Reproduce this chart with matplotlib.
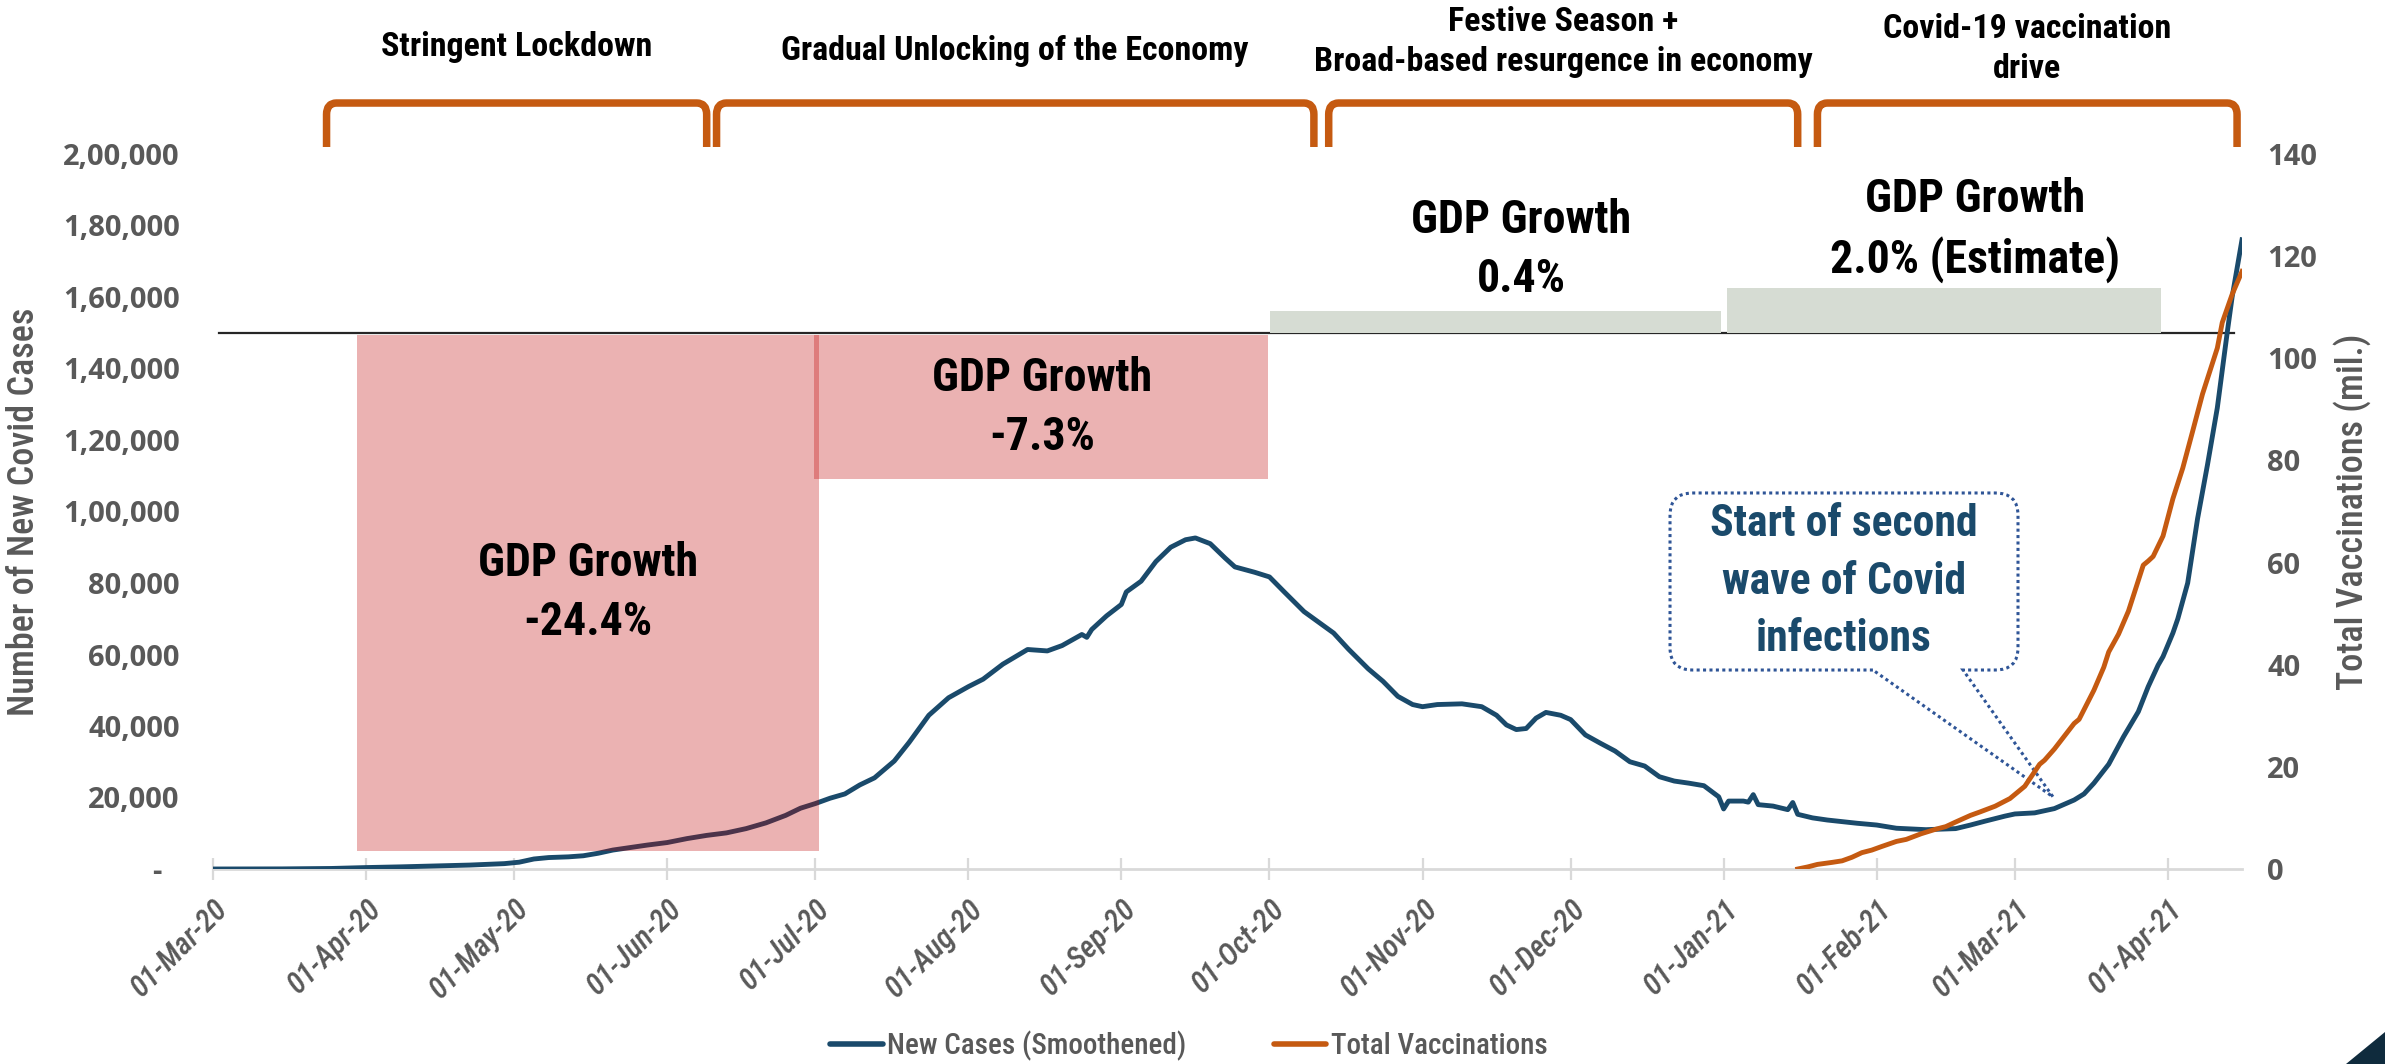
import os
import matplotlib
matplotlib.use("Agg")
import matplotlib.pyplot as plt
import matplotlib.dates as mdates
import matplotlib.transforms as mtransforms
from matplotlib import font_manager as fm
from matplotlib.font_manager import FontProperties
from matplotlib.lines import Line2D
from matplotlib.patches import PathPatch, Rectangle, Polygon
from matplotlib.path import Path
import pandas as pd

# ---------------------------------------------------------------- data
case_dates = [
    "2020-03-01", "2020-03-15", "2020-03-25", "2020-04-01", "2020-04-08", "2020-04-15",
    "2020-04-22", "2020-04-29", "2020-05-02", "2020-05-05", "2020-05-08", "2020-05-12",
    "2020-05-15", "2020-05-18", "2020-05-21", "2020-05-24", "2020-05-28", "2020-06-01",
    "2020-06-05", "2020-06-09", "2020-06-13", "2020-06-17", "2020-06-21", "2020-06-25",
    "2020-06-28", "2020-07-01", "2020-07-04", "2020-07-07", "2020-07-10", "2020-07-13",
    "2020-07-17", "2020-07-20", "2020-07-24", "2020-07-28", "2020-08-01", "2020-08-04",
    "2020-08-08", "2020-08-13", "2020-08-17", "2020-08-20", "2020-08-24", "2020-08-25",
    "2020-08-26", "2020-08-29", "2020-09-01", "2020-09-02", "2020-09-05", "2020-09-08",
    "2020-09-11", "2020-09-14", "2020-09-16", "2020-09-19", "2020-09-22", "2020-09-24",
    "2020-09-28", "2020-10-01", "2020-10-04", "2020-10-08", "2020-10-11", "2020-10-14",
    "2020-10-17", "2020-10-21", "2020-10-24", "2020-10-27", "2020-10-30", "2020-11-01",
    "2020-11-04", "2020-11-09", "2020-11-13", "2020-11-16", "2020-11-18", "2020-11-20",
    "2020-11-22", "2020-11-24", "2020-11-26", "2020-11-29", "2020-12-01", "2020-12-04",
    "2020-12-07", "2020-12-10", "2020-12-13", "2020-12-16", "2020-12-19", "2020-12-22",
    "2020-12-25", "2020-12-28", "2020-12-31", "2021-01-01", "2021-01-02", "2021-01-05",
    "2021-01-06", "2021-01-07", "2021-01-08", "2021-01-11", "2021-01-14", "2021-01-15",
    "2021-01-16", "2021-01-19", "2021-01-22", "2021-01-28", "2021-02-01", "2021-02-05",
    "2021-02-11", "2021-02-17", "2021-02-20", "2021-02-23", "2021-02-27", "2021-03-01",
    "2021-03-05", "2021-03-09", "2021-03-13", "2021-03-15", "2021-03-17", "2021-03-20",
    "2021-03-23", "2021-03-26", "2021-03-28", "2021-03-30", "2021-03-31", "2021-04-02",
    "2021-04-03", "2021-04-05", "2021-04-07", "2021-04-09", "2021-04-11", "2021-04-13",
    "2021-04-14", "2021-04-16",
]
case_values = [
    0, 30, 150, 400, 600, 850,
    1100, 1500, 1900, 2800, 3200, 3400,
    3700, 4400, 5300, 5900, 6700, 7400,
    8500, 9400, 10100, 11300, 12900, 15000,
    17000, 18300, 19800, 21000, 23500, 25500,
    30200, 35400, 43000, 47900, 51000, 53100,
    57300, 61400, 61000, 62500, 65600, 64800,
    67000, 70800, 74000, 77500, 80500, 86000,
    90000, 92100, 92600, 91000, 87000, 84500,
    83000, 81700, 77500, 72000, 69000, 66000,
    61500, 56000, 52500, 48300, 46000, 45400,
    46000, 46200, 45400, 43000, 40300, 39000,
    39300, 42200, 43800, 43000, 41800, 37500,
    35200, 33000, 30000, 28800, 25800, 24600,
    24000, 23300, 20200, 16800, 19000, 19000,
    18700, 20800, 18000, 17600, 16600, 18600,
    15300, 14300, 13700, 12800, 12300, 11400,
    11000, 11300, 12300, 13400, 14800, 15400,
    15700, 16900, 19300, 21000, 24000, 29300,
    37000, 44000, 51000, 57000, 59400, 66000,
    70000, 80000, 98000, 113000, 129000, 150000,
    160000, 176000,
]

vacc_dates = [
    "2021-01-16", "2021-01-18", "2021-01-20", "2021-01-23", "2021-01-25", "2021-01-27",
    "2021-01-29", "2021-01-31", "2021-02-02", "2021-02-05", "2021-02-07", "2021-02-10",
    "2021-02-13", "2021-02-15", "2021-02-17", "2021-02-20", "2021-02-22", "2021-02-25",
    "2021-02-28", "2021-03-01", "2021-03-03", "2021-03-06", "2021-03-07", "2021-03-09",
    "2021-03-11", "2021-03-13", "2021-03-14", "2021-03-17", "2021-03-19", "2021-03-20",
    "2021-03-22", "2021-03-24", "2021-03-26", "2021-03-27", "2021-03-28", "2021-03-29",
    "2021-03-31", "2021-04-02", "2021-04-04", "2021-04-06", "2021-04-08", "2021-04-10",
    "2021-04-11", "2021-04-12", "2021-04-14", "2021-04-16",
]
vacc_values = [
    0.0, 0.4, 0.9, 1.3, 1.6, 2.3,
    3.2, 3.7, 4.4, 5.4, 5.8, 6.9,
    7.8, 8.3, 9.2, 10.5, 11.2, 12.3,
    13.8, 14.6, 16.2, 20.5, 21.3, 23.5,
    26.0, 28.5, 29.3, 35.0, 39.5, 42.5,
    46.0, 50.5, 56.5, 59.5, 60.3, 61.2,
    65.2, 72.5, 78.5, 85.7, 93.0, 99.0,
    102.0, 107.0, 112.5, 117.0,
]

phase_names = [
    "Stringent Lockdown",
    "Gradual Unlocking of the Economy",
    "Festive Season +\nBroad-based resurgence in economy",
    "Covid-19 vaccination\ndrive",
]
phase_starts = ["2020-03-24", "2020-06-11", "2020-10-13", "2021-01-20"]
phase_ends = ["2020-06-09", "2020-10-10", "2021-01-16", "2021-04-15"]

gdp_texts = [
    "GDP Growth\n-24.4%",
    "GDP Growth\n-7.3%",
    "GDP Growth\n0.4%",
    "GDP Growth\n2.0% (Estimate)",
]
gdp_starts = ["2020-03-30 04:00", "2020-06-30 18:00", "2020-10-01 02:00", "2021-01-01 16:00"]
gdp_ends = ["2020-07-01 18:00", "2020-09-30 18:00", "2020-12-31 12:00", "2021-03-30 14:00"]

callout_text = "Start of second\nwave of Covid\ninfections"

# ---------------------------------------------------------------- layout / style
gdp_box_bottom = [5000, 109000, 150000, 150000]
gdp_box_top = [149300, 149300, 156000, 162500]
gdp_box_color = ["#C00000", "#C00000", "#D6DCD3", "#D6DCD3"]
gdp_box_alpha = [0.30, 0.30, 1.0, 1.0]
gdp_text_x = ["2020-05-16", "2020-08-16", "2020-11-21", "2021-02-21"]
gdp_text_y = [77300, 129000, 173200, 178800]
phase_text_y = [1.150, 1.144, 1.156, 1.147]

NAVY = "#1A4A6B"
ORANGE = "#C55A11"
GRAY_TXT = "#595959"
AXIS_GRAY = "#D9D9D9"
CALLOUT_EDGE = "#2F5597"

# ---------------------------------------------------------------- fonts
_files = {os.path.basename(f.fname): f.fname for f in fm.fontManager.ttflist}


def _pick(cands, weight, style="normal"):
    for c in cands:
        if c in _files:
            return dict(fname=_files[c])
    return dict(family=["Liberation Sans", "DejaVu Sans"], weight=weight, style=style)


NARROW_BOLD = _pick(["NotoSans-CondensedBold.ttf", "RobotoCondensed-Bold.ttf",
                     "LiberationSansNarrow-Bold.ttf"], "bold")
NARROW_SEMI = _pick(["NotoSans-CondensedSemiBold.ttf", "RobotoCondensed-Medium.ttf",
                     "RobotoCondensed-Bold.ttf", "LiberationSansNarrow-Bold.ttf"], "bold")
NARROW_MED = _pick(["NotoSans-CondensedMedium.ttf", "RobotoCondensed-Medium.ttf",
                    "RobotoCondensed-Regular.ttf", "LiberationSansNarrow-Regular.ttf"], "normal")
NARROW_ITAL = _pick(["NotoSans-CondensedSemiBoldItalic.ttf", "RobotoCondensed-MediumItalic.ttf",
                     "RobotoCondensed-BoldItalic.ttf", "RobotoCondensed-Italic.ttf",
                     "LiberationSansNarrow-BoldItalic.ttf"], "bold", "italic")
TICK_BOLD = _pick(["NotoSans-Bold.ttf", "OpenSans-Bold.ttf", "LiberationSans-Bold.ttf"], "bold")


def fp(spec, size):
    return FontProperties(size=size, **spec)


def indian(n):
    n = int(round(n))
    if n == 0:
        return "-"
    s = str(n)
    if len(s) <= 3:
        return s
    head, tail = s[:-3], s[-3:]
    groups = []
    while len(head) > 2:
        groups.insert(0, head[-2:])
        head = head[:-2]
    if head:
        groups.insert(0, head)
    return ",".join(groups + [tail])


# ---------------------------------------------------------------- figure
fig = plt.figure(figsize=(23.85, 10.64), dpi=100)
fig.patch.set_facecolor("white")
ax = fig.add_axes([213 / 2385, 1 - 869 / 1064, 2029 / 2385, 715 / 1064])
ax2 = ax.twinx()

cd = pd.to_datetime(case_dates)
vd = pd.to_datetime(vacc_dates)

ax.plot(cd, case_values, color=NAVY, lw=3.5, solid_joinstyle="round", zorder=2)
ax2.plot(vd, vacc_values, color=ORANGE, lw=3.5, solid_joinstyle="round", zorder=2)

x_left = pd.Timestamp("2020-03-01")
x_right = pd.Timestamp("2021-04-16")
ax.set_xlim(x_left, x_right)
ax.set_ylim(0, 200000)
ax2.set_ylim(0, 140)

# GDP growth blocks
for s, e, b, t, c, a in zip(gdp_starts, gdp_ends, gdp_box_bottom, gdp_box_top,
                            gdp_box_color, gdp_box_alpha):
    x0 = mdates.date2num(pd.Timestamp(s))
    x1 = mdates.date2num(pd.Timestamp(e))
    ax.add_patch(Rectangle((x0, b), x1 - x0, t - b, facecolor=c, alpha=a,
                           edgecolor="none", zorder=3))

for txt, tx, ty in zip(gdp_texts, gdp_text_x, gdp_text_y):
    ax.text(pd.Timestamp(tx), ty, txt, ha="center", va="center", color="black",
            fontproperties=fp(NARROW_BOLD, 33), linespacing=1.42, zorder=6)

# reference rule at 1,50,000
ax.axhline(150000, xmin=0.003, xmax=0.996, color="#262626", lw=1.6, zorder=1.5)

# phase brackets across the top
blend = mtransforms.blended_transform_factory(ax.transData, ax.transAxes)
yt, yb = 1.0713, 1.0098
rx, ry = 2.0, 0.016
for name, s, e, ty in zip(phase_names, phase_starts, phase_ends, phase_text_y):
    x0 = mdates.date2num(pd.Timestamp(s))
    x1 = mdates.date2num(pd.Timestamp(e))
    verts = [(x0, yb), (x0, yt - ry), (x0, yt), (x0 + rx, yt), (x1 - rx, yt),
             (x1, yt), (x1, yt - ry), (x1, yb)]
    codes = [Path.MOVETO, Path.LINETO, Path.CURVE3, Path.CURVE3, Path.LINETO,
             Path.CURVE3, Path.CURVE3, Path.LINETO]
    ax.add_patch(PathPatch(Path(verts, codes), fill=False, edgecolor=ORANGE, lw=5.4,
                           capstyle="butt", joinstyle="round", transform=blend,
                           clip_on=False, zorder=5))
    ax.text((x0 + x1) / 2, ty, name, transform=blend, ha="center", va="center",
            color="black", fontproperties=fp(NARROW_BOLD, 24.5), linespacing=1.32,
            clip_on=False)

# callout box with pointer (axes-fraction geometry)
L, R, T, B = 0.7181, 0.8896, 0.5259, 0.2783
cx, cy = 0.0113, 0.031
base_l, base_r = 0.8181, 0.8625
tip = (0.9069, 0.1007)
cverts = [(base_l, B), (L + cx, B), (L, B), (L, B + cy), (L, T - cy), (L, T), (L + cx, T),
          (R - cx, T), (R, T), (R, T - cy), (R, B + cy), (R, B), (R - cx, B),
          (base_r, B), tip, (base_l, B)]
ccodes = [Path.MOVETO, Path.LINETO, Path.CURVE3, Path.CURVE3, Path.LINETO, Path.CURVE3,
          Path.CURVE3, Path.LINETO, Path.CURVE3, Path.CURVE3, Path.LINETO, Path.CURVE3,
          Path.CURVE3, Path.LINETO, Path.LINETO, Path.LINETO]
ax.add_patch(PathPatch(Path(cverts, ccodes), facecolor="white", edgecolor=CALLOUT_EDGE,
                       lw=2.2, linestyle=(0, (1, 1.1)), capstyle="butt",
                       transform=ax.transAxes, zorder=7))
ax.text((L + R) / 2, 0.4020, callout_text, transform=ax.transAxes, ha="center",
        va="center", color=NAVY, fontproperties=fp(NARROW_BOLD, 31.5), linespacing=1.48,
        zorder=8)

# ---------------------------------------------------------------- axes styling
for sp in ("top", "left", "right"):
    ax.spines[sp].set_visible(False)
for sp in ax2.spines.values():
    sp.set_visible(False)
ax.spines["bottom"].set_color(AXIS_GRAY)
ax.spines["bottom"].set_linewidth(2.0)
ax.spines["bottom"].set_zorder(0.5)

month_ticks = pd.date_range("2020-03-01", "2021-04-01", freq="MS")
ax.set_xticks(month_ticks)
ax.set_xticklabels([d.strftime("%d-%b-%y") for d in month_ticks],
                   fontproperties=fp(NARROW_ITAL, 22), color=GRAY_TXT, rotation=45,
                   ha="right", va="top", rotation_mode="anchor")
ax.tick_params(axis="x", direction="inout", length=16, width=1.6, color=AXIS_GRAY, pad=10)

left_ticks = list(range(0, 200001, 20000))
ax.set_yticks(left_ticks)
ax.set_yticklabels([indian(v) for v in left_ticks], fontproperties=fp(TICK_BOLD, 21),
                   color=GRAY_TXT)
ax.tick_params(axis="y", length=0, pad=24)
zero_lbl = ax.get_yticklabels()[0]
zero_lbl.set_transform(zero_lbl.get_transform()
                       + mtransforms.ScaledTranslation(-0.18, 0, fig.dpi_scale_trans))

right_ticks = list(range(0, 141, 20))
ax2.set_yticks(right_ticks)
ax2.set_yticklabels([str(v) for v in right_ticks], fontproperties=fp(TICK_BOLD, 21),
                    color=GRAY_TXT)
ax2.tick_params(axis="y", length=0, pad=18)

ax.set_ylabel("Number of New Covid Cases", fontproperties=fp(NARROW_SEMI, 26),
              color=GRAY_TXT)
ax.yaxis.set_label_coords(-0.0843, 0.5)
ax2.set_ylabel("Total Vaccinations (mil.)", fontproperties=fp(NARROW_SEMI, 26),
               color=GRAY_TXT)
ax2.yaxis.set_label_coords(1.0448, 0.5)

# legend
handles = [Line2D([], [], color=NAVY, lw=4.0, solid_capstyle="round"),
           Line2D([], [], color=ORANGE, lw=4.0, solid_capstyle="round")]
leg = fig.legend(handles, ["New Cases (Smoothened)", "Total Vaccinations"],
                 loc="center", bbox_to_anchor=(0.4985, 0.017), ncol=2, frameon=False,
                 prop=fp(NARROW_MED, 21), handlelength=1.8, handletextpad=0.15,
                 columnspacing=3.0, borderpad=0)
for t in leg.get_texts():
    t.set_color(GRAY_TXT)

# corner accent
fig.patches.append(Polygon([(2346 / 2385, 0), (1, 0), (1, 32 / 1064)], closed=True,
                           facecolor="#0F2B3D", edgecolor="none",
                           transform=fig.transFigure, figure=fig))

fig.savefig("out.png", dpi=100, facecolor="white")
